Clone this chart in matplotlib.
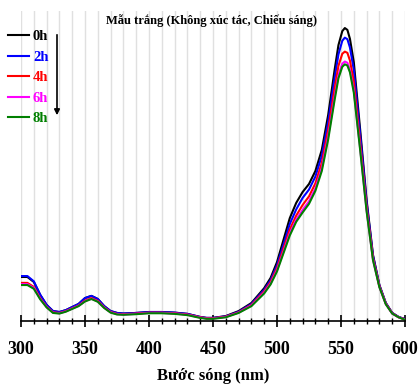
import matplotlib
matplotlib.use("Agg")
import matplotlib.pyplot as plt
from matplotlib.ticker import MultipleLocator

plt.rcParams['font.family'] = ['Liberation Serif', 'DejaVu Serif']

wavelength = [300, 305, 310, 315, 320, 325, 330, 335, 340, 345, 350, 355, 360, 365,
              370, 375, 380, 390, 400, 410, 420, 430, 440, 445, 450, 460, 470, 480,
              490, 495, 500, 505, 510, 515, 520, 525, 530, 535, 540, 545, 548, 551,
              553, 555, 557, 560, 565, 570, 575, 580, 585, 590, 595, 600]

abs_0h = [.142, .142, .126, .084, .052, .032, .029, .035, .045, .055, .074, .081, .071, .048,
          .032, .026, .024, .026, .029, .029, .027, .023, .013, .010, .010, .016, .032, .058,
          .106, .139, .190, .261, .332, .381, .416, .442, .484, .552, .665, .810, .890, .935,
          .945, .939, .910, .835, .616, .390, .213, .116, .058, .026, .013, .006]
abs_2h = [.145, .145, .128, .085, .052, .032, .029, .035, .045, .055, .074, .081, .071, .048,
          .032, .026, .024, .026, .029, .029, .027, .023, .013, .010, .010, .015, .030, .055,
          .101, .132, .180, .246, .313, .360, .397, .424, .466, .533, .643, .783, .860, .904,
          .914, .909, .882, .810, .600, .382, .210, .115, .058, .026, .013, .006]
abs_4h = [.123, .123, .110, .074, .046, .028, .026, .032, .041, .050, .066, .074, .065, .044,
          .029, .023, .022, .024, .027, .027, .025, .021, .012, .009, .009, .014, .028, .052,
          .096, .126, .171, .233, .295, .340, .374, .402, .444, .510, .617, .750, .823, .862,
          .869, .865, .840, .772, .573, .367, .203, .112, .056, .025, .012, .005]
abs_6h = [.119, .119, .107, .072, .045, .027, .025, .031, .040, .049, .064, .072, .063, .043,
          .028, .022, .021, .023, .026, .026, .024, .020, .011, .008, .008, .013, .027, .050,
          .092, .121, .164, .223, .283, .327, .358, .386, .428, .493, .596, .723, .793, .830,
          .837, .833, .810, .745, .555, .357, .198, .110, .055, .024, .012, .005]
abs_8h = [.116, .116, .104, .070, .044, .026, .024, .030, .039, .048, .063, .071, .062, .042,
          .027, .021, .020, .022, .025, .025, .023, .019, .010, .007, .007, .012, .026, .048,
          .089, .118, .160, .218, .276, .320, .350, .378, .420, .484, .586, .713, .783, .820,
          .828, .824, .802, .737, .550, .354, .196, .109, .054, .024, .012, .004]

labels = ['0h', '2h', '4h', '6h', '8h']
colors = ['black', 'blue', 'red', 'magenta', 'green']
series = [abs_0h, abs_2h, abs_4h, abs_6h, abs_8h]

fig = plt.figure(figsize=(4.18, 3.86), dpi=100)
ax = fig.add_axes([21 / 418, 65 / 386, 384 / 418, 310 / 386])

for lab, col, ys in zip(labels, colors, series):
    ax.plot(wavelength, ys, color=col, lw=1.5, label=lab)

ax.set_xlim(300, 600)
ax.set_ylim(0, 1.0)
ax.xaxis.set_major_locator(MultipleLocator(50))
ax.xaxis.set_minor_locator(MultipleLocator(10))
ax.grid(True, which='both', axis='x', color='#e0e0e0', lw=1)
ax.set_axisbelow(True)
ax.set_yticks([])
for side in ['left', 'right', 'top']:
    ax.spines[side].set_visible(False)
ax.spines['bottom'].set_linewidth(1.2)
ax.tick_params(axis='x', which='major', direction='inout', length=9, width=1.2, pad=10,
               labelsize=13)
ax.tick_params(axis='x', which='minor', direction='inout', length=5, width=1)
for t in ax.get_xticklabels():
    t.set_fontweight('bold')

ax.set_xlabel('Bước sóng (nm)', fontsize=12, fontweight='bold', labelpad=7)
ax.text(0.495, 0.97, 'Mẫu trắng (Không xúc tác, Chiếu sáng)', transform=ax.transAxes,
        ha='center', va='center', fontsize=9, fontweight='bold')

leg = ax.legend(loc='upper left', bbox_to_anchor=(-5 / 418, 1 - 17 / 386),
                bbox_transform=fig.transFigure, frameon=False, handlelength=1.4,
                handletextpad=0.3, labelspacing=0.5, prop={'weight': 'bold', 'size': 10.5})
for txt, col in zip(leg.get_texts(), colors):
    txt.set_color(col)

# arrow showing the decrease with irradiation time
fig.patches.append(matplotlib.patches.FancyArrowPatch(
    (57 / 418, 1 - 32 / 386), (57 / 418, 1 - 118 / 386), transform=fig.transFigure,
    arrowstyle='-|>', mutation_scale=8, color='black', lw=1.2))

fig.savefig('out.png', dpi=100)
